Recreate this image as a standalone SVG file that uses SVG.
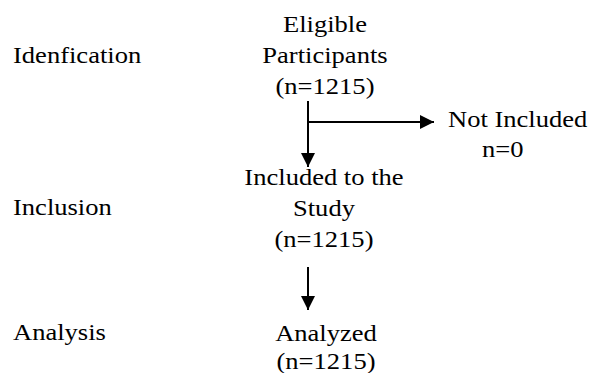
<svg xmlns="http://www.w3.org/2000/svg" width="589" height="373" viewBox="0 0 589 373">
<defs>
<marker id="ah" markerWidth="14" markerHeight="14" refX="14" refY="7" orient="auto" markerUnits="userSpaceOnUse">
<path d="M0,0 L14,7 L0,14 Z" fill="#000"/>
</marker>
</defs>
<rect width="589" height="373" fill="#fff"/>
<g fill="#000" transform="scale(1.13,1)">
<g id="stage-identification"><text font-family="Liberation Serif" font-size="23.5" x="11.5" y="63">Idenfication</text></g>
<g id="stage-inclusion"><text font-family="Liberation Serif" font-size="23.5" x="11.5" y="215">Inclusion</text></g>
<g id="stage-analysis"><text font-family="Liberation Serif" font-size="23.5" x="11.5" y="340">Analysis</text></g>
<g id="node-eligible">
<text font-family="Liberation Serif" font-size="23.5" text-anchor="middle" x="287.6" y="32">Eligible</text>
<text font-family="Liberation Serif" font-size="23.5" text-anchor="middle" x="287.6" y="63">Participants</text>
<text font-family="Liberation Serif" font-size="23.5" text-anchor="middle" x="287.6" y="94">(n=1215)</text>
</g>
<g id="node-not-included">
<text font-family="Liberation Serif" font-size="23.5" x="396.5" y="127">Not Included</text>
<text font-family="Liberation Serif" font-size="23.5" x="426.5" y="157">n=0</text>
</g>
<g id="node-included">
<text font-family="Liberation Serif" font-size="23.5" text-anchor="middle" x="286.7" y="185">Included to the</text>
<text font-family="Liberation Serif" font-size="23.5" text-anchor="middle" x="286.7" y="216">Study</text>
<text font-family="Liberation Serif" font-size="23.5" text-anchor="middle" x="286.7" y="247">(n=1215)</text>
</g>
<g id="node-analyzed">
<text font-family="Liberation Serif" font-size="23.5" text-anchor="middle" x="288.5" y="341">Analyzed</text>
<text font-family="Liberation Serif" font-size="23.5" text-anchor="middle" x="288.5" y="369">(n=1215)</text>
</g>
</g>
<g id="connectors" stroke="#000" stroke-width="2" fill="none">
<path d="M308,101 V167" marker-end="url(#ah)"/>
<path d="M308,122 H434" marker-end="url(#ah)"/>
<path d="M308,267 V310" marker-end="url(#ah)"/>
</g>
</svg>
